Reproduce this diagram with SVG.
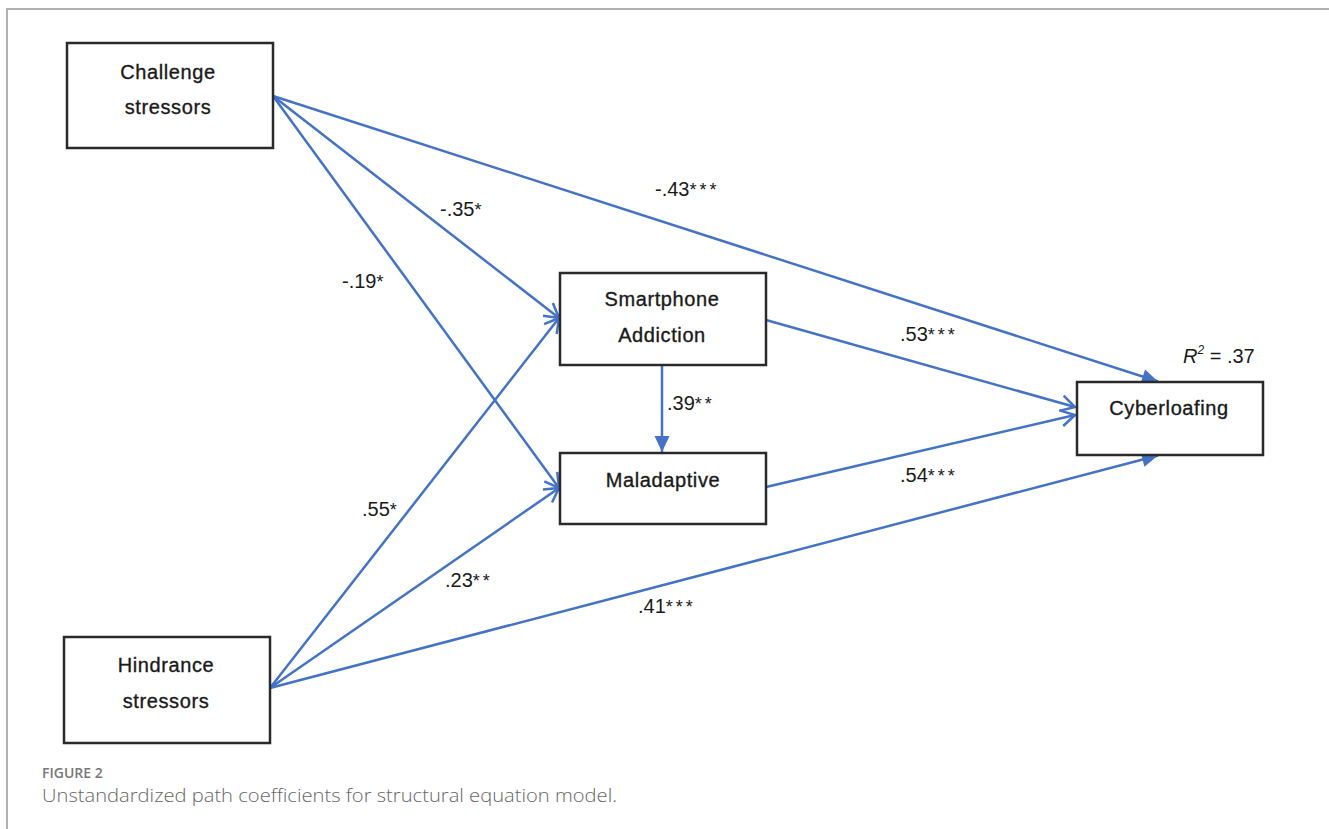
<svg xmlns="http://www.w3.org/2000/svg" width="1329" height="829" viewBox="0 0 1329 829">
<defs>
<style>
.frame{stroke:#b0b0b0;stroke-width:2;fill:none}
.box{fill:#fff;stroke:#2a2a2a;stroke-width:2.5}
.nt{font-family:"Liberation Sans",Arial,sans-serif;font-size:20px;fill:#1a1a1a;stroke:#1a1a1a;stroke-width:0.35;text-anchor:middle;letter-spacing:0.6px}
.lbl{font-family:"Liberation Sans",Arial,sans-serif;font-size:20px;fill:#1a1a1a}
.ast{letter-spacing:3px;font-size:18px}
.edge{stroke:#4472C4;stroke-width:2.5;fill:none}
.cap1{font-family:"Open Sans","Liberation Sans",sans-serif;font-size:14px;font-weight:600;fill:#777}
.cap2{font-family:"Open Sans","Liberation Sans",sans-serif;font-size:19px;font-weight:300;fill:#666}
</style>
<marker id="open" markerUnits="userSpaceOnUse" viewBox="-18 -10 20 20" refX="0" refY="0" markerWidth="20" markerHeight="20" orient="auto">
<path d="M-14,-8 L0,0 L-14,8" fill="none" stroke="#4472C4" stroke-width="2.5" stroke-linejoin="miter"/>
</marker>
<marker id="fill" markerUnits="userSpaceOnUse" viewBox="-18 -10 20 20" refX="0" refY="0" markerWidth="20" markerHeight="20" orient="auto">
<path d="M-16,-7.5 L0,0 L-16,7.5 Z" fill="#4472C4"/>
</marker>
</defs>
<rect width="1329" height="829" fill="#fff"/>
<path class="frame" d="M7,829 L7,9 L1329,9"/>

<g id="connectors">
<line class="edge" x1="273" y1="96" x2="1158" y2="381.5" marker-end="url(#fill)"/>
<line class="edge" x1="273" y1="96" x2="559" y2="318" marker-end="url(#open)"/>
<line class="edge" x1="273" y1="96" x2="559" y2="488" marker-end="url(#open)"/>
<line class="edge" x1="270" y1="688" x2="559" y2="318" marker-end="url(#open)"/>
<line class="edge" x1="270" y1="688" x2="559" y2="488" marker-end="url(#open)"/>
<line class="edge" x1="270" y1="688" x2="1158" y2="455.5" marker-end="url(#fill)"/>
<line class="edge" x1="766" y1="320" x2="1075" y2="407" marker-end="url(#open)"/>
<line class="edge" x1="766" y1="487" x2="1075" y2="415" marker-end="url(#open)"/>
<line class="edge" x1="662" y1="366" x2="662" y2="452" marker-end="url(#fill)"/>
</g>

<g id="labels">
<text class="lbl" x="655" y="196">-.43<tspan class="ast">***</tspan></text>
<text class="lbl" x="440" y="216">-.35<tspan class="ast">*</tspan></text>
<text class="lbl" x="342" y="288">-.19<tspan class="ast">*</tspan></text>
<text class="lbl" x="900" y="341">.53<tspan class="ast">***</tspan></text>
<text class="lbl" x="667" y="410">.39<tspan class="ast">**</tspan></text>
<text class="lbl" x="900" y="482">.54<tspan class="ast">***</tspan></text>
<text class="lbl" x="362" y="516">.55<tspan class="ast">*</tspan></text>
<text class="lbl" x="445" y="587">.23<tspan class="ast">**</tspan></text>
<text class="lbl" x="638" y="613">.41<tspan class="ast">***</tspan></text>
<text class="lbl" x="1183" y="363"><tspan font-style="italic">R</tspan><tspan font-size="12" dy="-9" font-style="italic">2</tspan><tspan dy="9"> = .37</tspan></text>
</g>

<g id="challenge">
<rect class="box" x="67" y="43" width="206" height="105"/>
<text class="nt" x="168" y="79">Challenge</text>
<text class="nt" x="168" y="114">stressors</text>
</g>

<g id="hindrance">
<rect class="box" x="64" y="637" width="206" height="106"/>
<text class="nt" x="166" y="672">Hindrance</text>
<text class="nt" x="166" y="708">stressors</text>
</g>

<g id="smartphone">
<rect class="box" x="560" y="273" width="206" height="92"/>
<text class="nt" x="662" y="306">Smartphone</text>
<text class="nt" x="662" y="342">Addiction</text>
</g>

<g id="maladaptive">
<rect class="box" x="560" y="453" width="206" height="71"/>
<text class="nt" x="663" y="487">Maladaptive</text>
</g>

<g id="cyberloafing">
<rect class="box" x="1077" y="382" width="186" height="73"/>
<text class="nt" x="1169" y="415">Cyberloafing</text>
</g>

<g id="caption">
<text class="cap1" x="42" y="778">FIGURE 2</text>
<text class="cap2" x="42" y="802" textLength="575" lengthAdjust="spacingAndGlyphs">Unstandardized path coefficients for structural equation model.</text>
</g>
</svg>
